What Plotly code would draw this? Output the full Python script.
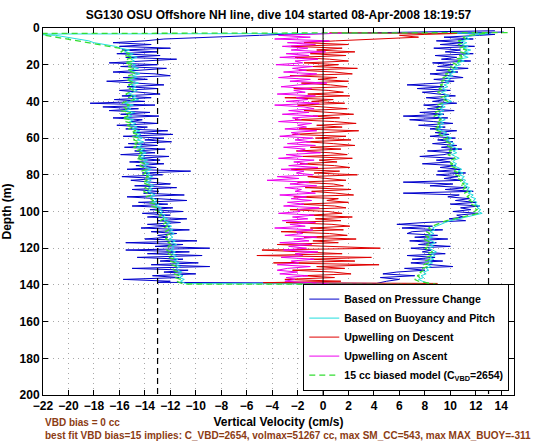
import plotly.graph_objects as go

# ---------------- data ----------------
depth_body = list(range(4, 139))  # 1 m samples, 4..138 m

# Based on Pressure Change (blue) - descent and ascent, by increasing depth
blue_desc = [-5.0, -9.5, -12.5, -14.0, -16.5, -13.5, -16.0, -12.0, -15.8, -13.0,
             -16.2, -12.8, -15.5, -11.5, -14.2, -16.8, -13.0, -15.9, -12.3, -14.6,
             -16.5, -13.2, -12.0, -15.7, -13.8, -17.0, -14.2, -12.5, -15.4, -13.0,
             -16.0, -14.0, -12.8, -15.8, -13.5, -16.4, -14.0, -18.3, -13.2, -17.3,
             -14.5, -16.8, -13.6, -15.9, -12.9, -16.5, -14.2, -15.1, -13.0, -16.2,
             -13.8, -15.5, -12.2, -14.9, -11.8, -15.7, -12.5, -14.0, -11.9, -15.3,
             -13.0, -15.6, -12.4, -14.8, -13.2, -15.9, -12.1, -14.5, -12.8, -15.2,
             -12.5, -14.7, -13.1, -15.4, -10.4, -14.2, -12.6, -15.8, -13.0, -15.1,
             -13.5, -12.0, -14.8, -11.5, -15.0, -12.9, -14.1, -10.9, -15.4, -13.2,
             -10.7, -14.5, -12.2, -15.0, -11.8, -13.6, -11.0, -14.2, -12.0, -13.8,
             -10.7, -13.0, -11.2, -13.8, -12.0, -14.3, -10.5, -13.5, -11.5, -13.0,
             -12.2, -14.0, -9.9, -15.5, -11.0, -13.2, -8.9, -15.5, -10.5, -13.8,
             -9.5, -14.6, -11.0, -12.8, -9.8, -13.5, -8.9, -15.0, -10.6, -12.5,
             -10.0, -13.4, -11.2, -15.7, -12.0]
blue_asc = [12.3, 9.5, 11.8, 8.9, 11.0, 9.2, 11.9, 8.7, 10.8, 9.6,
            11.8, 8.8, 10.5, 9.3, 11.6, 8.6, 10.2, 9.0, 11.4, 8.9,
            10.6, 8.4, 9.9, 11.0, 8.7, 10.3, 9.1, 6.6, 9.5, 7.4,
            10.0, 7.8, 9.2, 10.4, 8.1, 9.7, 8.6, 10.5, 7.9, 9.4,
            8.2, 10.3, 7.6, 9.5, 6.3, 9.8, 6.8, 8.7, 10.2, 7.5,
            9.6, 8.4, 10.5, 8.8, 9.9, 8.4, 10.4, 9.0, 10.2, 8.6,
            10.5, 9.3, 10.9, 8.2, 10.1, 9.5, 7.6, 10.3, 8.9, 10.0,
            7.8, 10.4, 9.2, 10.8, 9.0, 11.2, 8.9, 10.6, 9.5, 11.0,
            6.3, 10.2, 8.4, 11.3, 9.6, 11.8, 6.3, 10.7, 9.8, 11.5,
            10.4, 12.0, 10.0, 12.3, 10.8, 11.6, 10.2, 12.2, 10.5, 11.0,
            9.9, 11.2, 8.0, 5.8, 8.6, 6.2, 9.4, 7.0, 6.6, 9.0,
            7.2, 9.8, 6.8, 8.9, 7.5, 10.0, 6.9, 8.5, 7.8, 9.6,
            6.6, 8.8, 7.0, 9.4, 6.9, 8.2, 10.2, 6.4, 8.0, 5.8,
            4.7, 7.2, 4.5, 6.0, 5.0]
blue_top_d, blue_top_v = [1.5, 2.2, 2.8, 3.4], [13.5, 6.0, 1.0, -3.0]
blue_bot_d, blue_bot_v = [138.6, 139.2], [-13.0, 4.2]
blue_end_d, blue_end_v = [3.5, 2.8, 2.2], [13.5, 10.0, 14.2]

# Based on Buoyancy and Pitch (cyan)
cyan_desc = [-21.0, -20.2, -19.5, -18.4, -18.0, -17.1, -16.3, -15.9, -15.2, -15.6,
             -14.9, -15.3, -14.6, -15.1, -14.8, -15.4, -14.7, -15.0, -14.5, -15.2,
             -14.8, -14.4, -15.0, -14.6, -15.3, -14.9, -14.5, -15.1, -14.7, -15.0,
             -14.6, -14.9, -15.3, -14.7, -15.0, -14.5, -15.2, -15.6, -14.9, -15.4,
             -15.1, -15.6, -14.8, -15.3, -15.0, -15.5, -14.9, -15.2, -14.7, -15.1,
             -14.6, -15.0, -14.4, -14.8, -14.3, -14.7, -14.2, -14.6, -14.1, -14.5,
             -14.2, -14.6, -14.0, -14.4, -13.9, -14.3, -14.0, -14.4, -13.8, -14.1,
             -13.7, -14.1, -13.8, -13.5, -14.0, -13.6, -13.9, -13.4, -13.8, -13.5,
             -13.9, -13.6, -13.3, -13.7, -13.4, -13.8, -13.5, -13.2, -13.6, -13.3,
             -13.0, -13.4, -12.9, -13.2, -12.7, -12.9, -12.6, -12.8, -12.4, -12.6,
             -12.2, -12.5, -12.0, -12.3, -11.9, -12.2, -11.8, -12.1, -11.7, -12.0,
             -11.8, -12.1, -11.6, -11.9, -11.5, -11.9, -11.7, -12.0, -11.6, -11.9,
             -11.5, -11.8, -11.4, -11.7, -11.3, -11.6, -11.2, -11.5, -11.4, -11.1,
             -11.4, -11.0, -11.3, -10.9, -11.2]
cyan_asc = [11.8, 11.2, 11.5, 10.8, 11.3, 10.9, 11.4, 11.0, 11.6, 11.1,
            11.5, 11.0, 11.4, 10.7, 11.1, 10.5, 10.8, 10.3, 10.6, 10.1,
            10.4, 9.9, 10.2, 9.7, 10.0, 9.6, 9.9, 9.5, 9.8, 9.4,
            9.7, 9.3, 9.6, 9.9, 9.5, 9.8, 10.1, 9.6, 9.3, 9.6,
            9.2, 9.5, 9.1, 9.4, 9.0, 9.3, 9.6, 9.2, 9.5, 9.1,
            9.4, 9.0, 9.3, 9.7, 9.4, 9.8, 10.1, 9.7, 10.0, 10.3,
            10.0, 10.3, 10.6, 10.2, 10.5, 10.1, 10.4, 10.7, 10.3, 10.2,
            10.5, 10.2, 10.6, 10.9, 10.6, 11.0, 10.7, 11.1, 10.9, 11.2,
            11.0, 11.4, 11.1, 11.5, 11.3, 11.7, 11.4, 11.8, 11.6, 12.0,
            11.8, 12.1, 11.9, 12.3, 12.1, 12.4, 12.2, 12.5, 11.9, 11.2,
            10.6, 10.0, 9.6, 9.2, 8.9, 8.6, 8.8, 8.4, 8.7, 8.3,
            8.6, 8.2, 8.5, 8.8, 8.4, 8.7, 8.3, 8.6, 8.9, 8.5,
            8.8, 8.4, 8.7, 8.3, 8.6, 8.2, 8.5, 8.1, 8.3, 7.9,
            8.1, 7.7, 7.9, 7.5, 7.8]
cyan_top_d, cyan_top_v = [2.8, 3.3, 3.7], [13.0, -22.5, -22.0]
cyan_bot_d, cyan_bot_v = [139.3, 139.6], [-10.8, 8.5]
cyan_end_d, cyan_end_v = [3.4, 2.9], [12.5, 13.2]

# Upwelling on Descent (red)
red_desc = [6.0, 7.5, 3.5, 1.0, -1.5, 2.0, -2.5, 1.5, -0.5, 2.5,
            -1.0, 1.8, -2.2, 0.5, 2.0, -1.5, 1.2, -0.8, 2.7, -1.9,
            0.9, 2.3, -2.6, 1.1, -0.4, 2.0, -1.7, 0.6, 1.9, -2.3,
            0.4, 1.6, -1.2, 2.1, -3.0, 0.8, -0.9, 1.7, -2.0, 0.3,
            1.9, -1.5, 0.7, 2.4, -0.8, 1.3, -2.2, 0.9, 2.6, -0.5,
            1.5, -1.9, 2.8, 0.2, -2.4, 1.8, -0.6, 2.2, -1.3, 0.8,
            2.5, -1.0, 1.4, -2.1, 0.6, 1.9, -1.6, 2.3, -0.3, 1.1,
            -1.8, 0.9, 2.1, -2.5, 1.3, -0.7, 2.7, -1.2, 0.5, 1.8,
            -2.0, 0.8, 1.6, -1.4, 2.2, -0.9, 1.0, 2.4, -2.3, 1.2,
            0.3, 2.0, -1.7, 0.9, 1.8, -2.6, 0.4, 1.5, -1.1, 2.3,
            -0.6, 1.4, -2.9, 0.7, 2.1, -1.0, 1.6, -3.3, 0.5, 1.9,
            -1.5, 2.6, -0.8, 1.2, -3.6, 0.9, 4.5, -4.8, -2.0, 1.5,
            -5.2, 3.8, -1.0, 2.5, -3.9, 4.4, -0.5, 1.7, -2.4, 0.8,
            2.2, -1.6, 0.9, -3.0, 1.4]
red_top_d, red_top_v = [2.6, 3.0, 3.5], [0.5, 10.5, 8.0]
red_bot_d, red_bot_v = [138.8, 139.2], [-4.7, 9.0]

# Upwelling on Ascent (magenta)
mag_asc = [-3.5, -1.0, -3.8, 0.5, -2.8, -0.6, -3.2, -1.2, -2.5, 0.2,
           -2.9, -1.1, -3.4, -0.4, -2.2, -1.6, -3.7, -0.8, -2.4, -1.3,
           -3.1, -0.5, -2.0, -3.5, -1.0, -2.6, 0.3, -1.9, -3.3, -0.9,
           -2.3, -1.4, -3.6, -0.6, -2.1, -1.2, -2.9, -0.3, -3.8, -1.5,
           -0.7, -2.7, -1.1, -3.2, -0.4, -2.4, -1.7, -3.5, -0.9, -2.0,
           -1.3, -3.0, -0.5, -2.5, -1.8, -3.4, -0.8, -2.2, -1.0, -2.8,
           -0.6, -3.1, -1.4, -2.0, -0.2, -2.9, -1.6, -3.5, -0.7, -2.3,
           -1.2, -2.7, -0.4, -3.3, -1.5, -2.1, -0.8, -3.6, -1.9, -4.4,
           -1.1, -2.6, -0.5, -3.0, -1.7, -2.2, -0.6, -3.4, -1.3, -2.5,
           -0.9, -2.8, -1.5, -3.1, -0.3, -2.0, -1.8, -3.5, -0.7, -2.4,
           -1.2, -3.2, -0.6, -2.6, -1.4, -3.8, -0.8, -2.1, -1.6, -3.0,
           -0.5, -2.3, -1.1, -3.4, -0.9, -2.7, -1.3, -3.1, -0.4, -2.2,
           -1.6, -3.3, -0.7, -2.5, -1.9, -3.6, -1.0, -2.8, -3.6, -2.0,
           -3.4, -1.2, -2.9, -2.2, -3.0]
mag_bot_d, mag_bot_v = [139.4], [0.5]
mag_end_d, mag_end_v = [3.4, 2.8], [-1.5, 1.5]

# 15 cc biased model (green dashed)
green_desc = [-21.8, -20.9, -20.0, -19.2, -18.6, -17.5, -16.8, -16.0, -15.6, -15.9,
              -15.2, -15.6, -14.9, -15.4, -15.0, -15.6, -14.9, -15.3, -14.8, -15.4,
              -15.0, -14.7, -15.3, -14.9, -15.5, -15.1, -14.8, -15.3, -15.0, -15.2,
              -14.9, -15.2, -15.5, -15.0, -15.3, -14.8, -15.5, -15.8, -15.2, -15.7,
              -15.4, -15.9, -15.1, -15.6, -15.3, -15.8, -15.2, -15.5, -15.0, -15.4,
              -14.9, -15.3, -14.7, -15.1, -14.6, -15.0, -14.5, -14.9, -14.4, -14.8,
              -14.5, -14.9, -14.3, -14.7, -14.2, -14.6, -14.3, -14.7, -14.1, -14.4,
              -14.0, -14.4, -14.1, -13.8, -14.3, -13.9, -14.2, -13.7, -14.1, -13.8,
              -14.2, -13.9, -13.6, -14.0, -13.7, -14.1, -13.8, -13.5, -13.9, -13.6,
              -13.3, -13.7, -13.2, -13.5, -13.0, -13.2, -12.9, -13.1, -12.7, -12.9,
              -12.5, -12.8, -12.3, -12.6, -12.2, -12.5, -12.1, -12.4, -12.0, -12.3,
              -12.1, -12.4, -11.9, -12.2, -11.8, -12.2, -12.0, -12.3, -11.9, -12.2,
              -11.8, -12.1, -11.7, -12.0, -11.6, -11.9, -11.5, -11.8, -11.7, -11.4,
              -11.7, -11.3, -11.6, -11.2, -11.5]
green_asc = [11.5, 11.0, 11.2, 10.6, 11.0, 10.6, 11.1, 10.7, 11.3, 10.8,
             11.2, 10.7, 11.1, 10.4, 10.8, 10.2, 10.5, 10.0, 10.3, 9.8,
             10.1, 9.6, 9.9, 9.4, 9.7, 9.3, 9.6, 9.2, 9.5, 9.1,
             9.4, 9.0, 9.3, 9.6, 9.2, 9.5, 9.8, 9.3, 9.0, 9.3,
             8.9, 9.2, 8.8, 9.1, 8.7, 9.0, 9.3, 8.9, 9.2, 8.8,
             9.1, 8.7, 9.0, 9.4, 9.1, 9.5, 9.8, 9.4, 9.7, 10.0,
             9.7, 10.0, 10.3, 9.9, 10.2, 9.8, 10.1, 10.4, 10.0, 9.9,
             10.2, 9.9, 10.3, 10.6, 10.3, 10.7, 10.4, 10.8, 10.6, 10.9,
             10.7, 11.1, 10.8, 11.2, 11.0, 11.4, 11.1, 11.5, 11.3, 11.7,
             11.5, 11.8, 11.6, 12.0, 11.8, 12.1, 11.9, 12.2, 11.6, 10.9,
             10.3, 9.7, 9.3, 8.9, 8.6, 8.3, 8.5, 8.1, 8.4, 8.0,
             8.3, 7.9, 8.2, 8.5, 8.1, 8.4, 8.0, 8.3, 8.6, 8.2,
             8.5, 8.1, 8.4, 8.0, 8.3, 7.9, 8.2, 7.8, 8.0, 7.6,
             7.8, 7.4, 7.6, 7.2, 7.5]
green_top_d, green_top_v = [2.5, 3.0, 3.5], [14.5, -22.5, -22.2]
green_bot_d, green_bot_v = [139.5, 139.8], [-11.0, 9.0]
green_end_d, green_end_v = [3.2, 2.7], [12.8, 13.0]

ref_lines_x = [-13, 13]
title_text = "SG130 OSU Offshore NH line, dive 104 started 08-Apr-2008 18:19:57"
note1 = "VBD bias = 0 cc"
note2 = ("best fit VBD bias=15 implies: C_VBD=2654, volmax=51267 cc, "
         "max SM_CC=543, max MAX_BUOY=-311")

# ---------------- figure ----------------
FONT = "Liberation Sans, Arial, Helvetica, sans-serif"
PLOT_TOP, PLOT_BOTTOM = 28, 395
PLOT_H = PLOT_BOTTOM - PLOT_TOP


def dive_path(top_d, top_v, desc, bot_d, bot_v, asc, end_d, end_v):
    y = top_d + depth_body + bot_d + depth_body[::-1] + end_d
    x = top_v + desc + bot_v + asc[::-1] + end_v
    return x, y


fig = go.Figure()

bx, by = dive_path(blue_top_d, blue_top_v, blue_desc, blue_bot_d, blue_bot_v,
                   blue_asc, blue_end_d, blue_end_v)
fig.add_trace(go.Scatter(x=bx, y=by, mode="lines", name="Based on Pressure Change",
                         line=dict(color="#0000cc", width=1)))

cx, cy = dive_path(cyan_top_d, cyan_top_v, cyan_desc, cyan_bot_d, cyan_bot_v,
                   cyan_asc, cyan_end_d, cyan_end_v)
fig.add_trace(go.Scatter(x=cx, y=cy, mode="lines", name="Based on Buoyancy and Pitch",
                         line=dict(color="#22dddd", width=1)))

fig.add_trace(go.Scatter(x=red_top_v + red_desc + red_bot_v,
                         y=red_top_d + depth_body + red_bot_d,
                         mode="lines", name="Upwelling on Descent",
                         line=dict(color="#e00000", width=1)))

fig.add_trace(go.Scatter(x=mag_bot_v + mag_asc[::-1] + mag_end_v,
                         y=mag_bot_d + depth_body[::-1] + mag_end_d,
                         mode="lines", name="Upwelling on Ascent",
                         line=dict(color="#ee00ee", width=1)))

gx, gy = dive_path(green_top_d, green_top_v, green_desc, green_bot_d, green_bot_v,
                   green_asc, green_end_d, green_end_v)
fig.add_trace(go.Scatter(x=gx, y=gy, mode="lines",
                         name="15 cc biased model (C<sub>VBD</sub>=2654)",
                         line=dict(color="#33dd33", width=1.3, dash="6px,4px")))

for xv in ref_lines_x:
    fig.add_shape(type="line", x0=xv, x1=xv, y0=0, y1=200, xref="x", yref="y",
                  line=dict(color="black", width=1.2, dash="6px,4px"), layer="above")
fig.add_shape(type="line", x0=0, x1=0, y0=0, y1=200, xref="x", yref="y",
              line=dict(color="black", width=1), layer="above")

axis_common = dict(showline=True, linecolor="black", linewidth=1, mirror="ticks",
                   ticks="inside", ticklen=5, tickcolor="black", showgrid=True,
                   gridcolor="#a8a8a8", griddash="1px,4px", gridwidth=1, zeroline=False,
                   automargin=False,
                   tickfont=dict(family=FONT, size=12, color="black", weight="bold"))

fig.update_layout(
    width=560, height=442,
    margin=dict(l=43, r=45.5, t=PLOT_TOP, b=442 - PLOT_BOTTOM, autoexpand=False),
    paper_bgcolor="white", plot_bgcolor="white",
    font=dict(family=FONT, color="black"),
    title=dict(text=title_text, x=0.5, xref="paper", y=1 - 15 / 442, yanchor="middle",
               automargin=False,
               font=dict(family=FONT, size=12, color="black", weight="bold")),
    xaxis=dict(range=[-22, 15], tick0=-22, dtick=2,
               title=dict(text="Vertical Velocity (cm/s)", standoff=5,
                          font=dict(family=FONT, size=12, weight="bold")),
               **axis_common),
    yaxis=dict(range=[200, 0], tick0=0, dtick=20,
               title=dict(text="Depth (m)", standoff=6,
                          font=dict(family=FONT, size=12, weight="bold")),
               **axis_common),
    legend=dict(x=0.990, y=0.012, xanchor="right", yanchor="bottom",
                bgcolor="white", bordercolor="black", borderwidth=1,
                font=dict(family=FONT, size=10.5, color="black", weight="bold"),
                tracegroupgap=0),
    showlegend=True,
)

fig.add_annotation(text=note1, xref="paper", yref="paper", x=0.0,
                   y=-(422 - PLOT_BOTTOM) / PLOT_H,
                   xanchor="left", yanchor="middle", showarrow=False,
                   font=dict(family=FONT, size=10, color="#8c3c14", weight="bold"))
fig.add_annotation(text=note2, xref="paper", yref="paper", x=0.0,
                   y=-(435 - PLOT_BOTTOM) / PLOT_H,
                   xanchor="left", yanchor="middle", showarrow=False,
                   font=dict(family=FONT, size=10, color="#8c3c14", weight="bold"))

fig.write_html("out.html", config={"displayModeBar": False},
               post_script="document.body.style.margin='0px';"
                           "document.body.style.padding='0px';")
